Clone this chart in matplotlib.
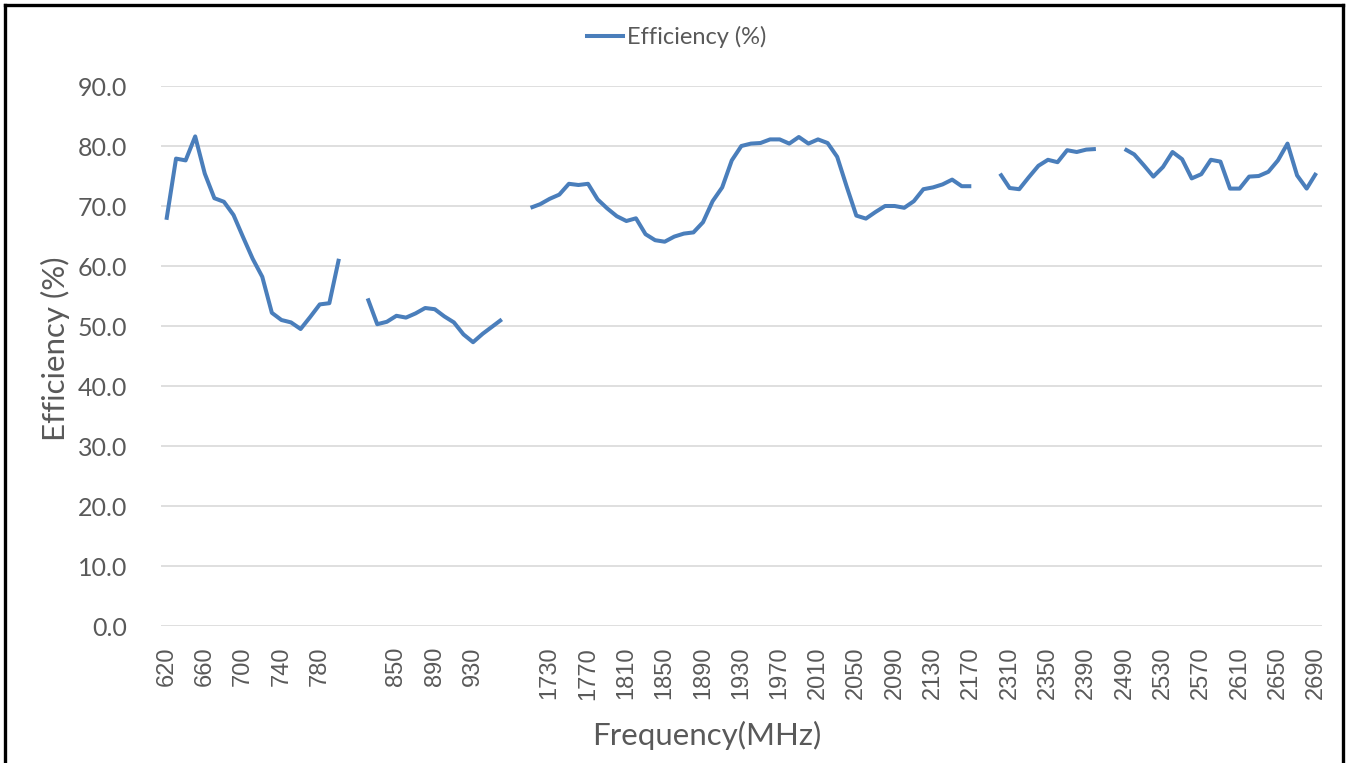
import numpy as np
import matplotlib
matplotlib.use("Agg")
import matplotlib.pyplot as plt
from matplotlib.lines import Line2D

# ---- data ----
band1_freq = list(range(620, 801, 10))
band1_eff = [67.7, 77.9, 77.6, 81.6, 75.4, 71.3, 70.7, 68.5, 64.8, 61.2, 58.2,
             52.2, 51.0, 50.6, 49.5, 51.5, 53.6, 53.8, 61.2]
band2_freq = list(range(820, 961, 10))
band2_eff = [54.6, 50.3, 50.7, 51.7, 51.4, 52.1, 53.0, 52.8, 51.6, 50.6, 48.6,
             47.3, 48.7, 49.9, 51.1]
band3_freq = list(range(1710, 2171, 10))
band3_eff = [69.7, 70.3, 71.2, 71.9, 73.7, 73.5, 73.7, 71.1, 69.6, 68.3, 67.5,
             67.95, 65.3, 64.3, 64.05, 64.9, 65.4, 65.6, 67.3, 70.8, 73.1, 77.6,
             80.0, 80.4, 80.5, 81.1, 81.1, 80.4, 81.5, 80.4, 81.1, 80.5, 78.2,
             73.2, 68.4, 67.9, 69.0, 70.0, 70.0, 69.7, 70.8, 72.8, 73.1, 73.6,
             74.4, 73.3, 73.3]
band4_freq = list(range(2300, 2401, 10))
band4_eff = [75.4, 73.0, 72.8, 74.8, 76.7, 77.7, 77.3, 79.3, 79.0, 79.4, 79.5]
band5_freq = list(range(2490, 2691, 10))
band5_eff = [79.5, 78.6, 76.8, 74.9, 76.5, 79.0, 77.8, 74.6, 75.3, 77.7, 77.4,
             72.9, 72.9, 74.9, 75.0, 75.7, 77.6, 80.4, 75.1, 72.9, 75.5]
gap_len = 2  # blank categories between bands

bands = [(band1_freq, band1_eff), (band2_freq, band2_eff), (band3_freq, band3_eff),
         (band4_freq, band4_eff), (band5_freq, band5_eff)]
categories = []
values = []
for i, (f, e) in enumerate(bands):
    if i > 0:
        categories += [""] * gap_len
        values += [np.nan] * gap_len
    categories += [str(v) for v in f]
    values += e
values = np.array(values, dtype=float)
x = np.arange(len(categories))

# ---- figure ----
W, H = 1351, 763
fig = plt.figure(figsize=(W / 100, H / 100), dpi=100)
fig.patch.set_facecolor("white")
ax = fig.add_axes([160.7 / W, 1 - 626 / H, (1322 - 160.7) / W, (626 - 86) / H])

txt = "#595959"
blue = "#4A7EBB"
ax.plot(x, values, color=blue, lw=2.9, solid_joinstyle="round",
        solid_capstyle="butt", zorder=3)

ax.set_ylim(0, 90)
ax.set_xlim(-0.6, len(categories) - 1 + 0.6)
ax.set_yticks(np.arange(0, 91, 10))
ax.set_yticklabels([f"{v:.1f}" for v in np.arange(0, 91, 10)],
                   fontsize=18, color=txt, family="Lato")
ax.yaxis.grid(True, color="#D9D9D9", lw=1.2)
ax.set_axisbelow(True)
tick_idx = x[::4]
ax.set_xticks(tick_idx)
ax.set_xticklabels([categories[i] for i in tick_idx], rotation=90,
                   fontsize=17, color=txt, family="Liberation Sans")
ax.tick_params(axis="both", length=0)
ax.tick_params(axis="y", pad=24)
ax.tick_params(axis="x", pad=15)
for s in ax.spines.values():
    s.set_visible(False)

fig.text(55 / W, 1 - 349 / H, "Efficiency (%)", rotation=90, ha="center", va="center",
         fontsize=22.5, color=txt, family="Lato")
fig.text(707 / W, 1 - 735 / H, "Frequency(MHz)", ha="center", va="center",
         fontsize=22.5, color=txt, family="Lato")

leg = fig.legend(handles=[Line2D([], [], color=blue, lw=2.9)],
                 labels=["Efficiency (%)"], loc="center", bbox_to_anchor=(677 / W, 1 - 37 / H),
                 frameon=False, prop={"family": "Lato", "size": 17}, handlelength=1.5,
                 handletextpad=0.2)
for t in leg.get_texts():
    t.set_color(txt)

# outer frame
for (xs, ys) in [([5 / W, 1343 / W], [1 - 5 / H, 1 - 5 / H]),
                 ([5 / W, 5 / W], [1 - 5 / H, 0]),
                 ([1343 / W, 1343 / W], [1 - 5 / H, 0])]:
    fig.add_artist(Line2D(xs, ys, color="black", lw=2.4, transform=fig.transFigure))

fig.savefig("out.png", dpi=100)
